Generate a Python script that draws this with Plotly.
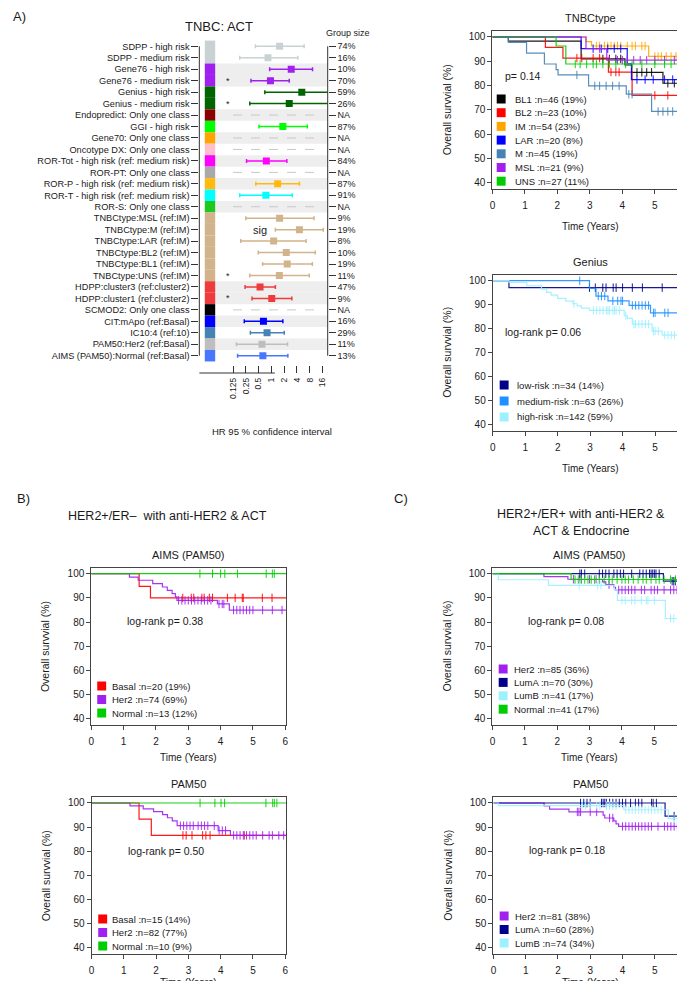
import math
import plotly.graph_objects as go

W, H = 685, 981
FONT = "Liberation Sans Narrow, Liberation Sans, Arial, sans-serif"
TXT = "#1a1a1a"

# ---------------- Forest plot data (panel A, TNBC: ACT) ----------------
forest_labels = [
    "SDPP - high risk", "SDPP - medium risk", "Gene76 - high risk", "Gene76 - medium risk",
    "Genius - high risk", "Genius - medium risk", "Endopredict: Only one class", "GGI - high risk",
    "Gene70: Only one class", "Oncotype DX: Only one class", "ROR-Tot - high risk (ref: medium risk)",
    "ROR-PT: Only one class", "ROR-P - high risk (ref: medium risk)", "ROR-T - high risk (ref: medium risk)",
    "ROR-S: Only one class", "TNBCtype:MSL (ref:IM)", "TNBCtype:M (ref:IM)", "TNBCtype:LAR (ref:IM)",
    "TNBCtype:BL2 (ref:IM)", "TNBCtype:BL1 (ref:IM)", "TNBCtype:UNS (ref:IM)",
    "HDPP:cluster3 (ref:cluster2)", "HDPP:cluster1 (ref:cluster2)", "SCMOD2: Only one class",
    "CIT:mApo (ref:Basal)", "IC10:4 (ref:10)", "PAM50:Her2 (ref:Basal)", "AIMS (PAM50):Normal (ref:Basal)",
]
forest_hr = [1.56, 0.83, 2.93, 0.95, 5.2, 2.63, None, 1.86, None, None, 0.76, None, 1.40, 0.74, None,
             1.56, 4.57, 1.13, 2.24, 2.36, 1.54, 0.54, 1.02, None, 0.65, 0.79, 0.60, 0.63]
forest_lo = [0.42, 0.18, 0.91, 0.33, 0.70, 0.31, None, 0.51, None, None, 0.26, None, 0.43, 0.18, None,
             0.25, 1.24, 0.19, 0.49, 0.62, 0.31, 0.24, 0.35, None, 0.23, 0.32, 0.15, 0.16]
forest_hi = [5.9, 4.2, 9.3, 2.63, 30.0, 30.0, None, 7.0, None, None, 2.31, None, 4.57, 3.09, None,
             10.1, 16.6, 6.56, 10.8, 9.2, 7.8, 1.24, 3.03, None, 1.86, 2.01, 2.40, 2.44]
group_size = ["74%", "16%", "10%", "70%", "59%", "26%", "NA", "87%", "NA", "NA", "84%", "NA", "87%", "91%",
              "NA", "9%", "19%", "8%", "10%", "19%", "11%", "47%", "9%", "NA", "16%", "29%", "11%", "13%"]
row_colors = ["#c8d2d2", "#c8d2d2", "#a020f0", "#a020f0", "#006400", "#006400", "#8b0000", "#00ff00",
              "#ffa500", "#ffc0cb", "#ff00ff", "#a9a9a9", "#ffb90f", "#00ffff", "#1ec81e",
              "#d2b48c", "#d2b48c", "#d2b48c", "#d2b48c", "#d2b48c", "#d2b48c",
              "#ee3b3b", "#ee3b3b", "#000000", "#0000ff", "#4682b4", "#bebebe", "#4876ff"]
band_rows = [0, 0, 1, 1, 0, 0, 1, 0, 1, 0, 1, 0, 1, 0, 1, 0, 0, 0, 0, 0, 0, 1, 1, 0, 1, 0, 1, 0]
star_rows = [3, 5, 20, 22]
sig_row = 16
hr_ticks = [0.125, 0.25, 0.5, 1, 2, 4, 8, 16]
hr_ticktext = ["0.125", "0.25", "0.5", "1", "2", "4", "8", "16"]

# ---------------- KM data ----------------
# TNBCtype
tnbc_groups = ["BL1", "BL2", "IM", "LAR", "M", "MSL", "UNS"]
tnbc_n = [46, 23, 54, 20, 45, 21, 27]
tnbc_pct = [19, 10, 23, 8, 19, 9, 11]
tnbc_event_t = [[0.49, 2.73, 4.08, 4.29, 5.25],
                [1.63, 2.17, 3.57, 4.30],
                [2.88, 3.05, 4.81],
                [2.73, 4.15, 4.28],
                [0.49, 1.05, 1.60, 1.96, 2.02, 2.96, 4.12, 4.90],
                [2.88, 3.52],
                [1.96, 2.26]]
tnbc_event_s = [[98.3, 91.0, 88.5, 85.5, 81.0],
                [95.7, 91.3, 85.6, 76.0],
                [98.1, 96.3, 92.0],
                [95.2, 89.0, 82.5],
                [97.8, 93.4, 88.9, 86.6, 84.4, 79.9, 76.5, 69.4],
                [95.2, 90.5],
                [96.3, 88.9]]
tnbc_censor = [[3.4, 3.6, 3.8, 3.95, 4.45, 4.6, 4.75, 4.9, 5.4, 5.6, 5.8, 5.95],
               [2.6, 2.75, 3.1, 3.3, 3.65, 3.8, 3.9, 5.0, 5.4, 5.8, 5.95],
               [3.2, 3.3, 3.45, 3.55, 3.65, 3.75, 3.85, 3.95, 4.15, 4.3, 4.4, 4.6, 4.7, 5.0, 5.1, 5.2,
                5.35, 5.5, 5.65, 5.8, 5.9],
               [3.1, 3.35, 3.55, 3.75, 3.95, 4.45, 4.7, 4.95, 5.3, 5.55, 5.75, 5.95],
               [2.6, 3.15, 3.3, 3.5, 3.7, 3.9, 4.2, 4.3, 5.1, 5.25, 5.4, 5.55, 5.7, 5.85, 5.95],
               [3.3, 3.6, 3.85, 4.0, 4.15, 4.35, 4.55, 4.75, 5.0, 5.3, 5.6, 5.9],
               [2.55, 2.7, 2.9, 3.1, 3.2, 3.4, 3.6, 3.8, 4.1, 4.3, 4.6, 5.0, 5.3, 5.5, 5.8]]
tnbc_colors = ["#000000", "#ff0000", "#ffa500", "#0000ff", "#4682b4", "#a020f0", "#00cd00"]

# Genius
genius_groups = ["low-risk", "medium-risk", "high-risk"]
genius_n = [34, 63, 142]
genius_pct = [14, 26, 59]
genius_event_t = [[0.50],
                  [2.98, 3.18, 3.55, 4.20, 4.86],
                  [0.50, 1.05, 1.50, 1.66, 1.80, 2.00, 2.25, 2.47, 2.60, 2.73, 2.98, 4.05, 4.15, 4.30,
                   4.91, 5.22]]
genius_event_s = [[97.1],
                  [96.8, 93.6, 91.6, 89.7, 86.6],
                  [99.3, 97.9, 96.5, 95.1, 94.0, 92.6, 91.5, 90.4, 89.5, 88.6, 87.6, 85.4, 84.3, 81.9,
                   79.0, 77.3]]
genius_censor = [[2.98, 3.16, 3.39, 3.49, 3.71, 3.8, 4.0, 4.3, 4.61, 5.22, 5.83, 5.93],
                 [2.68, 3.25, 3.35, 3.45, 3.7, 3.85, 3.95, 4.0, 4.3, 4.4, 4.5, 4.6, 4.7, 4.8, 4.95, 5.0,
                  5.3, 5.4, 5.95],
                 [2.5, 3.1, 3.2, 3.3, 3.4, 3.5, 3.55, 3.6, 3.7, 3.75, 3.8, 3.9, 4.1, 4.35, 4.4, 4.5, 4.6,
                  4.7, 4.8, 4.95, 5.0, 5.1, 5.3, 5.4, 5.5, 5.6, 5.7, 5.8, 5.9, 6.0]]
genius_colors = ["#00008b", "#1e90ff", "#9ef0ff"]

# B: HER2+/ER- AIMS
baims_groups = ["Basal", "Her2", "Normal"]
baims_n = [20, 74, 13]
baims_pct = [19, 69, 12]
baims_event_t = [[1.48, 1.83],
                 [1.18, 1.45, 1.90, 2.20, 2.35, 2.50, 2.60, 2.65, 3.90, 4.27],
                 []]
baims_event_s = [[94.8, 90.0],
                 [98.6, 97.3, 95.9, 94.5, 93.1, 91.8, 90.4, 89.0, 87.5, 85.0],
                 []]
baims_censor = [[2.83, 3.09, 3.17, 3.42, 3.49, 3.65, 3.75, 4.21, 4.45, 4.67, 4.7, 5.29, 5.59],
                [2.7, 2.8, 2.9, 3.0, 3.1, 3.2, 3.3, 3.4, 3.5, 3.6, 3.7, 3.95, 4.05, 4.1, 4.4, 4.5, 4.6,
                 4.7, 4.8, 4.9, 5.0, 5.3, 5.6, 5.9],
                [3.36, 3.75, 4.0, 4.13, 4.52, 5.41, 5.6, 5.66]]
baims_colors = ["#ff0000", "#a020f0", "#00cd00"]

# B: HER2+/ER- PAM50
bpam_groups = ["Basal", "Her2", "Normal"]
bpam_n = [15, 82, 10]
bpam_pct = [14, 77, 9]
bpam_event_t = [[1.47, 1.85],
                [1.19, 1.60, 1.92, 2.20, 2.35, 2.50, 2.65, 3.92, 4.30],
                []]
bpam_event_s = [[93.3, 86.6],
                [98.8, 97.6, 96.4, 95.2, 93.9, 92.6, 90.6, 88.6, 86.6],
                []]
bpam_censor = [[2.83, 2.93, 3.11, 3.44, 3.54, 3.67, 4.73],
               [2.75, 2.85, 2.95, 3.05, 3.15, 3.3, 3.4, 3.5, 3.6, 3.8, 3.95, 4.05, 4.15, 4.4, 4.5, 4.6,
                4.7, 4.8, 4.9, 5.0, 5.1, 5.3, 5.5, 5.6, 5.8, 5.95],
               [3.36, 3.82, 4.01, 4.12, 5.4, 5.61, 5.66, 5.74]]
bpam_colors = ["#ff0000", "#a020f0", "#00cd00"]

# C: HER2+/ER+ AIMS
caims_groups = ["Her2", "LumA", "LumB", "Normal"]
caims_n = [85, 70, 41, 41]
caims_pct = [36, 30, 17, 17]
caims_event_t = [[1.59, 2.33, 3.40, 3.50, 3.75, 3.80],
                 [5.28],
                 [0.18, 1.73, 3.76, 3.86, 5.34],
                 [2.43]]
caims_event_s = [[98.8, 97.7, 96.6, 95.5, 94.4, 93.3],
                 [96.9],
                 [97.5, 95.2, 93.4, 89.0, 81.5],
                 [97.6]]
caims_censor = [[2.5, 2.7, 3.0, 3.2, 3.6, 3.9, 4.0, 4.1, 4.2, 4.3, 4.4, 4.6, 4.7, 4.9, 5.0, 5.1, 5.3,
                 5.5, 5.6, 5.7, 5.8, 5.9],
                [2.7, 2.75, 2.85, 3.3, 3.4, 3.5, 3.6, 3.75, 3.85, 3.95, 4.05, 4.3, 4.55, 4.65, 4.75,
                 4.85, 4.9, 4.95, 5.0, 5.05, 5.15, 5.55, 5.6, 5.65],
                [2.68, 3.25, 3.35, 4.0, 4.1, 4.3, 4.4, 4.6, 4.75, 4.8, 5.0, 5.5, 5.6, 5.75],
                [2.55, 2.65, 2.75, 2.85, 2.95, 3.05, 3.15, 3.3, 3.45, 3.6, 3.7, 3.85, 4.0, 4.1, 4.2,
                 4.35, 4.5, 4.65, 4.75, 4.9, 5.05, 5.15, 5.3, 5.5, 5.65, 5.8]]
caims_colors = ["#a020f0", "#00008b", "#9ef0ff", "#00cd00"]

# C: HER2+/ER+ PAM50
cpam_groups = ["Her2", "LumA", "LumB"]
cpam_n = [81, 60, 74]
cpam_pct = [38, 28, 34]
cpam_event_t = [[1.57, 1.74, 2.34, 3.40, 3.45, 3.73, 3.80, 3.88],
                [5.32],
                [0.15, 4.04, 5.42]]
cpam_event_s = [[98.8, 97.5, 96.3, 95.0, 93.8, 92.6, 91.4, 90.3],
                [94.6],
                [98.9, 97.2, 93.5]]
cpam_censor = [[2.6, 2.65, 2.7, 3.0, 3.2, 3.6, 3.7, 4.0, 4.1, 4.2, 4.3, 4.4, 4.5, 4.6, 4.7, 4.8, 4.9,
                5.1, 5.3, 5.4, 5.5, 5.6, 5.7, 5.8, 5.9],
               [2.7, 2.8, 2.9, 3.0, 3.35, 3.4, 3.45, 3.5, 3.6, 3.7, 3.8, 3.9, 4.0, 4.1, 4.25, 4.4, 4.5,
                4.6, 4.9, 4.95, 5.05, 5.6],
               [2.75, 2.85, 3.0, 3.2, 3.3, 3.5, 3.6, 3.7, 3.8, 4.1, 4.2, 4.3, 4.4, 4.5, 4.6, 4.7, 4.8,
                4.9, 5.0, 5.1, 5.2, 5.6, 5.7, 5.8, 5.9]]
cpam_colors = ["#a020f0", "#00008b", "#9ef0ff"]

km_time_ticks = [0, 1, 2, 3, 4, 5, 6]
km_surv_ticks = [40, 50, 60, 70, 80, 90, 100]

# ---------------- helpers ----------------
def px_x(p):
    return p / W


def px_y(p):
    return 1 - p / H


fig = go.Figure()
annotations = []
shapes = []


def ann(text, x, y, size=10, xanchor="center", yanchor="middle", angle=0, color=TXT):
    annotations.append(dict(text=text, x=px_x(x), y=px_y(y), xref="paper", yref="paper",
                            showarrow=False, xanchor=xanchor, yanchor=yanchor, textangle=angle,
                            font=dict(size=size, family=FONT, color=color)))


# ---------------- Forest plot ----------------
ROW0, ROWSTEP = 38.3, 11.46
FX0, FX1 = 190.0, 319.5
FY0, FY1 = 27.0, 358.0
LOG_C, PPD = 262.7, 12.9  # px of HR=1, px per doubling
xr0 = math.log10(2 ** ((FX0 - LOG_C) / PPD))
xr1 = math.log10(2 ** ((FX1 - LOG_C) / PPD))
yr_top = (FY0 - ROW0) / ROWSTEP
yr_bot = (FY1 - ROW0) / ROWSTEP
rows = list(range(len(forest_labels)))
AXIS_Y = 365.0

fig.update_layout(
    xaxis=dict(domain=[px_x(FX0), px_x(FX1)], type="log", range=[xr0, xr1], anchor="free",
               position=px_y(AXIS_Y), tickvals=hr_ticks, ticktext=hr_ticktext, tickangle=-90,
               ticks="inside", ticklen=7, tickcolor="#333", showline=False, showgrid=False,
               zeroline=False, tickfont=dict(size=8.5, family=FONT, color=TXT), ticklabelstandoff=2),
    yaxis=dict(domain=[px_y(FY1), px_y(FY0)], range=[yr_bot, yr_top], anchor="x", tickvals=rows,
               ticktext=forest_labels, ticks="outside", ticklen=7, tickcolor="#333", showline=False,
               showgrid=False, zeroline=False, tickfont=dict(size=9.2, family=FONT, color=TXT)),
    yaxis2=dict(overlaying="y", side="right", anchor="x", range=[yr_bot, yr_top], tickvals=rows,
                ticktext=group_size, ticks="outside", ticklen=7, tickcolor="#333", showline=False,
                showgrid=False, zeroline=False, tickfont=dict(size=9, family=FONT, color=TXT)),
)

# bands and stripes
for i in rows:
    if band_rows[i]:
        shapes.append(dict(type="rect", xref="paper", yref="y", x0=px_x(206), x1=px_x(FX1),
                           y0=i - 0.5, y1=i + 0.5, fillcolor="#eeeeee", line=dict(width=0), layer="below"))
    shapes.append(dict(type="rect", xref="paper", yref="y", x0=px_x(195.5), x1=px_x(206),
                       y0=i - 0.5, y1=i + 0.5, fillcolor=row_colors[i], line=dict(width=0), layer="below"))

# axis lines (drawn only between the first and last tick, as in base R)
shapes.append(dict(type="line", xref="paper", yref="y", x0=px_x(FX0), x1=px_x(FX0), y0=0, y1=rows[-1],
                   line=dict(color="#333", width=1)))
shapes.append(dict(type="line", xref="paper", yref="y", x0=px_x(FX1), x1=px_x(FX1), y0=0, y1=rows[-1],
                   line=dict(color="#333", width=1)))
shapes.append(dict(type="line", xref="x", yref="paper", x0=math.log10(hr_ticks[0]),
                   x1=math.log10(hr_ticks[-1]), y0=px_y(AXIS_Y), y1=px_y(AXIS_Y),
                   line=dict(color="#333", width=1)))
# reference line at HR = 1
shapes.append(dict(type="line", xref="x", yref="y domain", x0=0, x1=0, y0=0, y1=1,
                   line=dict(color="rgba(185,60,60,0.75)", width=2), layer="below"))

# NA rows: dashed line
for i in rows:
    if forest_hr[i] is None:
        fig.add_trace(go.Scatter(x=[0.125, 14.0], y=[i, i], mode="lines", xaxis="x", yaxis="y",
                                 line=dict(color="#c8c8c8", width=1, dash="dash"),
                                 hoverinfo="skip", showlegend=False))

# estimates
for i in rows:
    if forest_hr[i] is None:
        continue
    c = row_colors[i]
    fig.add_trace(go.Scatter(
        x=[forest_hr[i]], y=[i], mode="markers", xaxis="x", yaxis="y",
        marker=dict(symbol="square", size=7, color=c, line=dict(width=0)),
        error_x=dict(type="data", symmetric=False, array=[forest_hi[i] - forest_hr[i]],
                     arrayminus=[forest_hr[i] - forest_lo[i]], color=c, thickness=1.5, width=2),
        showlegend=False, hoverinfo="skip"))

# dummy trace to register right axis
fig.add_trace(go.Scatter(x=[1], y=[0], xaxis="x", yaxis="y2", mode="markers",
                         marker=dict(opacity=0), showlegend=False, hoverinfo="skip"))

for i in star_rows:
    annotations.append(dict(text="*", x=px_x(215), y=i, xref="paper", yref="y", showarrow=False,
                            font=dict(size=9, family=FONT, color=TXT)))
annotations.append(dict(text="sig", x=px_x(251), y=sig_row, xref="paper", yref="y", showarrow=False,
                        font=dict(size=11, family=FONT, color=TXT)))
ann("TNBC: ACT", 210, 18, size=13)
ann("Group size", 316, 25, size=9, xanchor="left")
ann("HR 95 % confidence interval", 263.5, 423, size=9.5)
ann("A)", 0, 9, size=13, xanchor="left")
ann("B)", 4, 490, size=13, xanchor="left")
ann("C)", 384, 490, size=13, xanchor="left")

# ---------------- KM panels ----------------
def step_value(evt, evs, t):
    s = 100.0
    for a, b in zip(evt, evs):
        if a <= t:
            s = b
    return s


panel_count = [0]


def km_panel(title, p100, p40, x0, x6, groups, ns, pcts, ev_t, ev_s, censors, colors,
             ptext, ptext_xy, leg_top, leg_step, sq_x, txt_x, ylab_x, time_y):
    panel_count[0] += 1
    k = panel_count[0]
    xa = "x%d" % (k + 1)
    ya = "y%d" % (k + 2)
    ppu = (p40 - p100) / 60.0
    top = p100 - 2.5 * ppu
    bot = p40 + 2.5 * ppu
    ppy = (x6 - x0) / 6.0
    xmax = 6.02
    right = x0 + xmax * ppy
    axcommon = dict(showline=True, mirror=True, linecolor="#444", linewidth=1, ticks="outside",
                    ticklen=4, tickcolor="#444", showgrid=False, zeroline=False,
                    tickfont=dict(size=10, family=FONT, color=TXT))
    fig.update_layout(**{
        "xaxis%d" % (k + 1): dict(domain=[px_x(x0), px_x(right)], range=[0, xmax], anchor=ya,
                                   tickvals=km_time_ticks, ticklabelstandoff=3,
                                   ticklabeloverflow="allow", **axcommon),
        "yaxis%d" % (k + 2): dict(domain=[px_y(bot), px_y(top)], range=[37.5, 102.5], anchor=xa,
                                   tickvals=km_surv_ticks, **axcommon),
    })
    for g in range(len(groups)):
        xs = [0.0] + list(ev_t[g]) + [6.3]
        ys = [100.0] + list(ev_s[g]) + [ev_s[g][-1] if ev_s[g] else 100.0]
        fig.add_trace(go.Scatter(x=xs, y=ys, mode="lines", line=dict(color=colors[g], width=1.2, shape="hv"),
                                 opacity=0.9, xaxis=xa, yaxis=ya, showlegend=False, hoverinfo="skip"))
        cy = [step_value(ev_t[g], ev_s[g], c) for c in censors[g]]
        fig.add_trace(go.Scatter(x=censors[g], y=cy, mode="markers",
                                 marker=dict(symbol="line-ns-open", size=6, color=colors[g],
                                             line=dict(width=1, color=colors[g])),
                                 opacity=0.9, xaxis=xa, yaxis=ya, showlegend=False, hoverinfo="skip"))
        ly = leg_top + g * leg_step
        shapes.append(dict(type="rect", xref="paper", yref="paper", x0=px_x(sq_x), x1=px_x(sq_x + 9),
                           y0=px_y(ly + 4.5), y1=px_y(ly - 4.5), fillcolor=colors[g],
                           line=dict(width=0)))
        ann("%s :n=%d (%d%%)" % (groups[g], ns[g], pcts[g]), txt_x, ly, size=9.5, xanchor="left")
    ann(title, (x0 + right) / 2, top - 13, size=11)
    ann(ptext, ptext_xy[0], ptext_xy[1], size=10.5, xanchor="left")
    ann("Overall survvial (%)", ylab_x, (top + bot) / 2, size=10.5, angle=-90)
    ann("Time (Years)", (x0 + right) / 2, time_y, size=10)


km_panel("TNBCtype", 29, 175, 485.7, 682.3, tnbc_groups, tnbc_n, tnbc_pct, tnbc_event_t, tnbc_event_s,
         tnbc_censor, tnbc_colors, "p= 0.14", (496, 68), 91, 13.7, 490, 506, 440, 218)
km_panel("Genius", 272.7, 416.7, 486, 682.5, genius_groups, genius_n, genius_pct, genius_event_t,
         genius_event_s, genius_censor, genius_colors, "log-rank p= 0.06", (496, 324), 377, 16, 493, 508,
         440, 460)
km_panel("AIMS (PAM50)", 565.7, 711, 81, 276.7, baims_groups, baims_n, baims_pct, baims_event_t,
         baims_event_s, baims_censor, baims_colors, "log-rank p= 0.38", (115, 613), 678, 13.5, 87, 100,
         35, 749)
km_panel("PAM50", 795, 940, 81.3, 276.7, bpam_groups, bpam_n, bpam_pct, bpam_event_t, bpam_event_s,
         bpam_censor, bpam_colors, "log-rank p= 0.50", (116, 843), 911, 13.5, 88, 100, 35, 974)
km_panel("AIMS (PAM50)", 565.7, 711, 485.7, 681.7, caims_groups, caims_n, caims_pct, caims_event_t,
         caims_event_s, caims_censor, caims_colors, "log-rank p= 0.08", (520, 613), 661, 13.4, 492,
         505, 440, 749)
km_panel("PAM50", 795, 940, 486.7, 682, cpam_groups, cpam_n, cpam_pct, cpam_event_t, cpam_event_s,
         cpam_censor, cpam_colors, "log-rank p= 0.18", (521, 842), 908, 13.5, 493, 506, 440, 974)

ann("HER2+/ER\u2013  with anti-HER2 & ACT", 158, 508, size=12.5)
ann("HER2+/ER+ with anti-HER2 &", 575, 506, size=12.5)
ann("ACT & Endocrine", 575, 523, size=12.5)

fig.update_layout(width=W, height=H, autosize=False, margin=dict(l=0, r=0, t=0, b=0),
                  paper_bgcolor="white", plot_bgcolor="rgba(0,0,0,0)", showlegend=False,
                  annotations=annotations, shapes=shapes,
                  font=dict(family=FONT, color=TXT))

fig.write_html("out.html")
